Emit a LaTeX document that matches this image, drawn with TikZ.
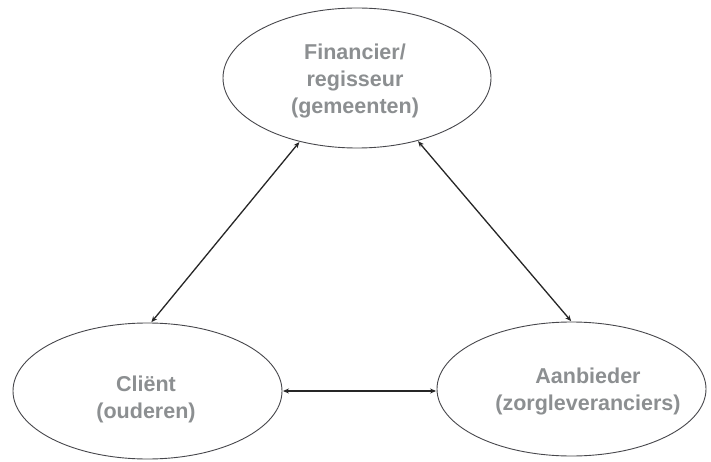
\documentclass[tikz,border=0pt]{standalone}
\usepackage{fontspec}
\setmainfont{Liberation Sans}
\usetikzlibrary{shapes.geometric,arrows.meta}
\definecolor{txtgray}{rgb}{0.55,0.56,0.57}
\definecolor{linegray}{rgb}{0.28,0.28,0.30}
\begin{document}
\begin{tikzpicture}[x=1pt,y=-1pt,
  oval/.style={ellipse,draw=linegray,line width=0.9pt,inner sep=0pt},
  lbl/.style={align=center,text=txtgray,font=\bfseries\fontsize{21.5}{27}\selectfont,inner sep=0pt},
  link/.style={line width=1.3pt,draw=black!85,{Stealth[length=6pt,width=5pt]}-{Stealth[length=6pt,width=5pt]},shorten <=0.5pt,shorten >=0.5pt}]
\useasboundingbox[fill=white] (0,0) rectangle (711,462);
\node[oval,minimum width=268pt,minimum height=140pt] (fin) at (357,78) {};
\node[oval,minimum width=269pt,minimum height=136pt] (cli) at (147.5,391) {};
\node[oval,minimum width=269pt,minimum height=134pt] (aan) at (571.5,389) {};
\node[lbl] (fintxt) at (355,81) {Financier/\\regisseur\\(gemeenten)};
\node[lbl] (clitxt) at (146,399) {Cliënt\\(ouderen)};
\node[lbl] (aantxt) at (588,391) {Aanbieder\\(zorgleveranciers)};
\draw[link] (cli.87) -- (fin.228);
\draw[link] (fin.314) -- (aan.90);
\draw[link] (cli.east) -- (cli.east -| aan.west);
\end{tikzpicture}
\end{document}
